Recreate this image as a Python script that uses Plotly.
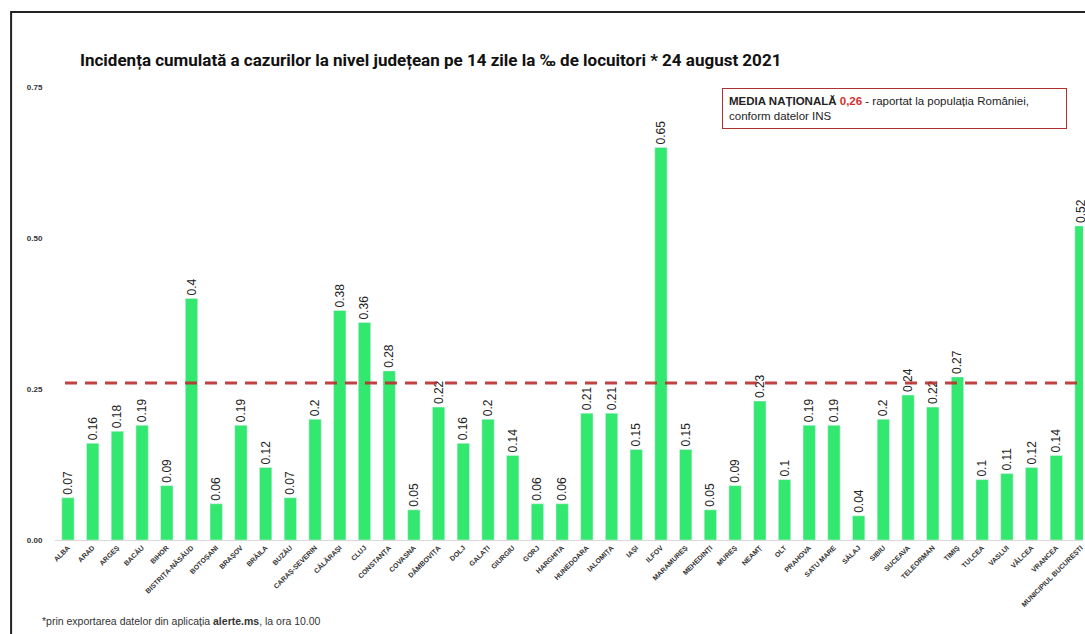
import plotly.graph_objects as go

counties = ["ALBA", "ARAD", "ARGEȘ", "BACĂU", "BIHOR", "BISTRIȚA-NĂSĂUD", "BOTOȘANI",
            "BRAȘOV", "BRĂILA", "BUZĂU", "CARAȘ-SEVERIN", "CĂLĂRAȘI", "CLUJ", "CONSTANȚA",
            "COVASNA", "DÂMBOVIȚA", "DOLJ", "GALAȚI", "GIURGIU", "GORJ", "HARGHITA",
            "HUNEDOARA", "IALOMIȚA", "IAȘI", "ILFOV", "MARAMUREȘ", "MEHEDINȚI", "MUREȘ",
            "NEAMȚ", "OLT", "PRAHOVA", "SATU MARE", "SĂLAJ", "SIBIU", "SUCEAVA",
            "TELEORMAN", "TIMIȘ", "TULCEA", "VASLUI", "VÂLCEA", "VRANCEA",
            "MUNICIPIUL BUCUREȘTI"]
incidence = [0.07, 0.16, 0.18, 0.19, 0.09, 0.4, 0.06,
             0.19, 0.12, 0.07, 0.2, 0.38, 0.36, 0.28,
             0.05, 0.22, 0.16, 0.2, 0.14, 0.06, 0.06,
             0.21, 0.21, 0.15, 0.65, 0.15, 0.05, 0.09,
             0.23, 0.1, 0.19, 0.19, 0.04, 0.2, 0.24,
             0.22, 0.27, 0.1, 0.11, 0.12, 0.14,
             0.52]
national_avg = 0.26
y_ticks = [0.0, 0.25, 0.5, 0.75]
y_ticktext = ["<b>0.00</b>", "<b>0.25</b>", "<b>0.50</b>", "<b>0.75</b>"]

W, H = 1085, 634
L, R, T, B = 55, 0, 87, 94
pw, ph = W - L - R, H - T - B


def px(x):
    return (x - L) / pw


def py(y):
    return (H - B - y) / ph


fig = go.Figure()
fig.add_trace(go.Bar(
    x=counties, y=incidence,
    marker_color="#33e86e",
    text=[str(v) for v in incidence],
    textposition="outside",
    textangle=-90,
    constraintext="none",
    cliponaxis=False,
    textfont=dict(family="Arial", size=12, color="#222222"),
    width=0.5,
))

fig.update_layout(
    width=W, height=H,
    margin=dict(l=L, r=R, t=T, b=B),
    paper_bgcolor="white", plot_bgcolor="white",
    showlegend=False,
    title=dict(
        text="<b>Incidența cumulată a cazurilor la nivel județean pe 14 zile la ‰ de locuitori * 24 august 2021</b>",
        x=80 / W, xanchor="left", xref="container",
        y=1 - 60 / H, yanchor="middle", yref="container",
        font=dict(family="Roboto", size=17, color="#111111"),
    ),
    xaxis=dict(
        range=[-0.525, 41.08],
        tickangle=-45,
        tickfont=dict(family="Arial", size=7, color="#333333", weight="bold"),
        showline=True, linecolor="#d9d9d9", linewidth=1,
        showgrid=False, ticks="",
    ),
    yaxis=dict(
        range=[0, 0.75],
        tickvals=y_ticks, ticktext=y_ticktext,
        tickfont=dict(family="Arial", size=8, color="#333333"),
        showgrid=False, zeroline=False, showline=False,
        ticks="outside", ticklen=10, tickcolor="rgba(0,0,0,0)",
    ),
    bargap=0.5,
)

# national average dashed line
fig.add_shape(type="line", xref="paper", yref="y",
              x0=px(65), x1=1.0, y0=national_avg, y1=national_avg,
              line=dict(color="rgba(185,45,45,0.9)", width=3, dash="12px,8px"),
              layer="above")

# outer frame (top + left)
fig.add_shape(type="path", xref="paper", yref="paper",
              path=f"M {px(11)},{py(H + 5)} L {px(11)},{py(12)} L {px(W + 10)},{py(12)}",
              line=dict(color="#222222", width=2))

# national average box
fig.add_annotation(
    xref="paper", yref="paper",
    x=px(723), y=py(88), xanchor="left", yanchor="top",
    text=("<b>MEDIA NAȚIONALĂ <span style='color:#d63030'>0,26</span></b> - raportat la populația României,"
          "<br>conform datelor INS"),
    align="left", showarrow=False,
    font=dict(family="Arial", size=11.5, color="#222222"),
    bordercolor="#b03030", borderwidth=1, borderpad=6,
    bgcolor="white", width=331,
)

# footnote
fig.add_annotation(
    xref="paper", yref="paper",
    x=px(40), y=py(621), xanchor="left", yanchor="middle",
    text="*prin exportarea datelor din aplicația <b>alerte.ms</b>, la ora 10.00",
    showarrow=False,
    font=dict(family="Arial", size=10.5, color="#333333"),
)

fig.write_html("out.html",
               config={"displayModeBar": False},
               post_script="document.body.style.margin='0px';document.body.style.overflow='hidden';")
